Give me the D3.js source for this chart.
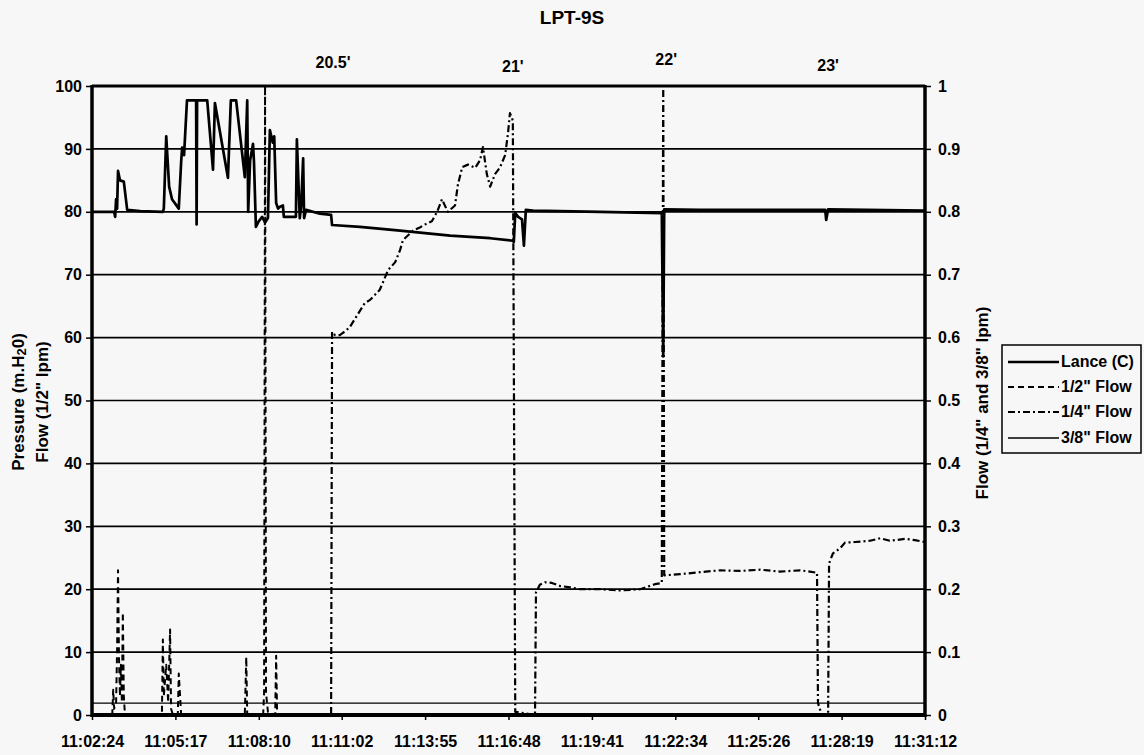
<!DOCTYPE html>
<html><head><meta charset="utf-8">
<script src="https://cdn.jsdelivr.net/npm/d3@7"></script>
<style>
body{margin:0;background:#f7f7f7}
text{font-family:"Liberation Sans",Arial,Helvetica,sans-serif;font-weight:bold;fill:#000}
</style>
</head><body>
<svg id="chart" width="1144" height="755"></svg>
<script>
// ---------- data ----------
const chartTitle = "LPT-9S";
const xTickLabels = ["11:02:24","11:05:17","11:08:10","11:11:02","11:13:55","11:16:48","11:19:41","11:22:34","11:25:26","11:28:19","11:31:12"];
const leftTickValues = [0,10,20,30,40,50,60,70,80,90,100];
const rightTickValues = [0,0.1,0.2,0.3,0.4,0.5,0.6,0.7,0.8,0.9,1];
const depthLabels = ["20.5'","21'","22'","23'"];
const depthTimes = ["11:10:44","11:16:57","11:22:15","11:27:51"];
const seriesNames = ["Lance (C)","1/2\" Flow","1/4\" Flow","3/8\" Flow"];

const lanceTimes = ["11:02:24","11:03:10","11:03:12","11:03:14","11:03:16","11:03:18","11:03:22","11:03:30","11:03:37","11:04:04","11:04:51","11:04:53","11:04:58","11:05:04","11:05:10","11:05:24","11:05:29","11:05:31","11:05:35","11:05:41","11:06:00","11:06:01","11:06:02","11:06:23","11:06:35","11:06:39","11:07:06","11:07:12","11:07:23","11:07:41","11:07:46","11:07:48","11:07:52","11:07:58","11:08:00","11:08:04","11:08:10","11:08:17","11:08:23","11:08:29","11:08:33","11:08:39","11:08:42","11:08:46","11:08:50","11:08:54","11:09:00","11:09:02","11:09:27","11:09:29","11:09:35","11:09:38","11:09:42","11:09:44","11:09:48","11:10:17","11:10:40","11:10:42","11:11:40","11:13:03","11:14:47","11:16:10","11:16:57","11:16:59","11:17:02","11:17:08","11:17:16","11:17:20","11:17:24","11:17:39","11:19:58","11:22:06","11:22:09","11:22:11","11:23:25","11:27:45","11:27:47","11:27:51","11:31:12"];
const lanceValues = [80.0,80.0,79.2,82,80.5,86.5,85,84.8,80.3,80.1,80.0,80.5,92,84,82,80.5,88,90.2,89,97.7,97.7,78,97.7,97.7,86.7,97.3,85.4,97.7,97.7,85.5,97.7,80,88.2,90.8,88,77.6,78.5,79.2,78.3,79,93,91,92,81.4,80.5,80.8,81,79.2,79.2,91.5,79,81,88.5,79,80.3,79.7,79.5,77.9,77.6,77.0,76.2,75.8,75.4,75.2,79.8,79.2,78.8,74.6,80.3,80.2,80.0,79.8,57,80.4,80.3,80.3,78.7,80.4,80.2];

const halfTimes = ["11:02:24","11:03:06","11:03:08","11:03:10","11:03:14","11:03:16","11:03:18","11:03:20","11:03:22","11:03:24","11:03:26","11:03:28","11:03:30","11:03:32","11:03:34","11:04:49","11:04:51","11:04:53","11:04:58","11:05:02","11:05:06","11:05:08","11:05:12","11:05:22","11:05:24","11:05:29","11:07:41","11:07:44","11:07:46","11:08:19","11:08:21","11:08:23","11:08:25","11:08:29","11:08:44","11:08:46","11:08:48","11:31:12"];
const halfValues = [0,0,4,1,2,10,23,9,3,8,2,16.3,3,0.5,0,0,12,3,8,2,13.6,1,0,0,6.6,0,0,9.2,0,0,3.5,100,3.5,0.5,0,9.4,0,0];

const quarterTimes = ["11:02:24","11:10:40","11:10:42","11:10:48","11:10:58","11:11:09","11:11:19","11:11:32","11:11:50","11:12:01","11:12:21","11:12:38","11:12:53","11:13:03","11:13:09","11:13:30","11:13:44","11:13:55","11:14:09","11:14:20","11:14:30","11:14:42","11:14:57","11:15:03","11:15:12","11:15:24","11:15:39","11:15:49","11:15:55","11:16:03","11:16:10","11:16:20","11:16:30","11:16:41","11:16:47","11:16:51","11:16:57","11:17:02","11:17:43","11:17:45","11:17:53","11:18:04","11:18:18","11:18:35","11:18:56","11:19:16","11:19:58","11:20:39","11:21:21","11:21:52","11:22:06","11:22:09","11:22:11","11:22:44","11:23:25","11:24:07","11:24:48","11:25:30","11:26:11","11:26:53","11:27:13","11:27:28","11:27:30","11:27:38","11:27:51","11:27:53","11:28:01","11:28:16","11:28:26","11:28:47","11:29:18","11:29:39","11:29:59","11:30:31","11:30:51","11:31:12"];
const quarterValues = [0,0,0.609,0.604,0.604,0.61,0.617,0.633,0.655,0.66,0.676,0.707,0.72,0.739,0.755,0.77,0.775,0.78,0.785,0.80,0.82,0.80,0.81,0.843,0.871,0.875,0.87,0.882,0.903,0.86,0.84,0.86,0.87,0.89,0.925,0.957,0.945,0.005,0,0.195,0.207,0.211,0.21,0.205,0.203,0.2,0.2,0.198,0.2,0.208,0.21,1.0,0.222,0.224,0.227,0.23,0.229,0.231,0.228,0.23,0.228,0.226,0.019,0,0,0.241,0.257,0.265,0.274,0.275,0.277,0.281,0.277,0.28,0.278,0.275];

const threeEighthTimes = ["11:02:24","11:10:00","11:20:00","11:31:12"];
const threeEighthValues = [0.019,0.019,0.019,0.019];

// ---------- drawing ----------
const parse = d3.timeParse("%H:%M:%S");
const svg = d3.select("#chart");
const W = 1144, H = 755;
const L = 92, R = 925, T = 86, B = 715;
svg.append("rect").attr("width",W).attr("height",H).attr("fill","#f7f7f7");

const x = d3.scaleTime().domain([parse(xTickLabels[0]), parse(xTickLabels[xTickLabels.length-1])]).range([L,R]);
const yL = d3.scaleLinear().domain([0,100]).range([B,T]);
const yR = d3.scaleLinear().domain([0,1]).range([B,T]);

// gridlines
svg.append("g").selectAll("line").data(leftTickValues.filter(v=>v>0 && v<100)).join("line")
  .attr("x1",L).attr("x2",R).attr("y1",d=>yL(d)).attr("y2",d=>yL(d))
  .attr("stroke","#000").attr("stroke-width",1.7);

// axes
const fmtTime = d3.timeFormat("%H:%M:%S");
const gx = svg.append("g").attr("transform",`translate(0,${B})`)
  .call(d3.axisBottom(x).tickValues(xTickLabels.map(parse)).tickSize(5).tickPadding(16).tickFormat(fmtTime));
const gl = svg.append("g").attr("transform",`translate(${L},0)`)
  .call(d3.axisLeft(yL).tickValues(leftTickValues).tickSize(6).tickPadding(4));
const gr = svg.append("g").attr("transform",`translate(${R},0)`)
  .call(d3.axisRight(yR).tickValues(rightTickValues).tickSize(6).tickPadding(7).tickFormat(d=>String(+d.toFixed(1))));
[gx,gl,gr].forEach(g=>{
  g.select(".domain").remove();
  g.selectAll(".tick line").attr("stroke","#000").attr("stroke-width",1.5);
  g.selectAll(".tick text").attr("font-size",16).attr("font-family",null).attr("fill","#000");
});
// frame
svg.append("line").attr("x1",L).attr("x2",R).attr("y1",T).attr("y2",T).attr("stroke","#000").attr("stroke-width",3);
svg.append("line").attr("x1",L-1).attr("x2",R+1).attr("y1",B).attr("y2",B).attr("stroke","#000").attr("stroke-width",4);
svg.append("line").attr("x1",L).attr("x2",L).attr("y1",T-1).attr("y2",B+2).attr("stroke","#000").attr("stroke-width",3.5);
svg.append("line").attr("x1",R).attr("x2",R).attr("y1",T-1).attr("y2",B+2).attr("stroke","#000").attr("stroke-width",3.5);

// series
const styles = [
  {w:2.7, dash:null},
  {w:2.0, dash:"6,4"},
  {w:2.2, dash:"7,3,2,3"},
  {w:1.3, dash:null}
];
const series = [
  {t:lanceTimes, v:lanceValues, y:yL},
  {t:halfTimes, v:halfValues, y:yL},
  {t:quarterTimes, v:quarterValues, y:yR},
  {t:threeEighthTimes, v:threeEighthValues, y:yR}
];
const drawOrder = [3,1,2,0];
drawOrder.forEach(i=>{
  const s = series[i];
  const pts = s.t.map((t,k)=>[parse(t), s.v[k]]);
  const line = d3.line().x(d=>x(d[0])).y(d=>s.y(d[1]));
  svg.append("path").attr("d",line(pts)).attr("fill","none").attr("stroke","#000")
    .attr("stroke-width",styles[i].w).attr("stroke-dasharray",styles[i].dash)
    .attr("stroke-linejoin","round");
});

// title & depth labels
svg.append("text").attr("x",572).attr("y",24).attr("text-anchor","middle").attr("font-size",19).text(chartTitle);
const depthBaselines = [68,72,65,71];
depthLabels.forEach((d,i)=>{
  svg.append("text").attr("x",x(parse(depthTimes[i]))).attr("y",depthBaselines[i])
    .attr("text-anchor","middle").attr("font-size",16).text(d);
});

// axis titles
const lt = svg.append("text").attr("transform","translate(24,402) rotate(-90)").attr("text-anchor","middle").attr("font-size",17);
lt.append("tspan").text("Pressure (m.H");
lt.append("tspan").attr("font-size",13).attr("dy",2).text("2");
lt.append("tspan").attr("dy",-2).text("0)");
svg.append("text").attr("transform","translate(48,402) rotate(-90)").attr("text-anchor","middle").attr("font-size",17).text("Flow (1/2\" lpm)");
svg.append("text").attr("transform","translate(988,403) rotate(-90)").attr("text-anchor","middle").attr("font-size",17).text("Flow (1/4\" and 3/8\" lpm)");

// legend
const lg = svg.append("g");
lg.append("rect").attr("x",1002).attr("y",345).attr("width",139).attr("height",108)
  .attr("fill","#f7f7f7").attr("stroke","#000").attr("stroke-width",1.5);
const rowY = [362,387,412,438];
seriesNames.forEach((n,i)=>{
  lg.append("line").attr("x1",1008).attr("x2",1059).attr("y1",rowY[i]).attr("y2",rowY[i])
    .attr("stroke","#000").attr("stroke-width",styles[i].w).attr("stroke-dasharray",styles[i].dash);
  lg.append("text").attr("x",1061).attr("y",rowY[i]+5).attr("font-size",16).text(n);
});
</script>
</body></html>
